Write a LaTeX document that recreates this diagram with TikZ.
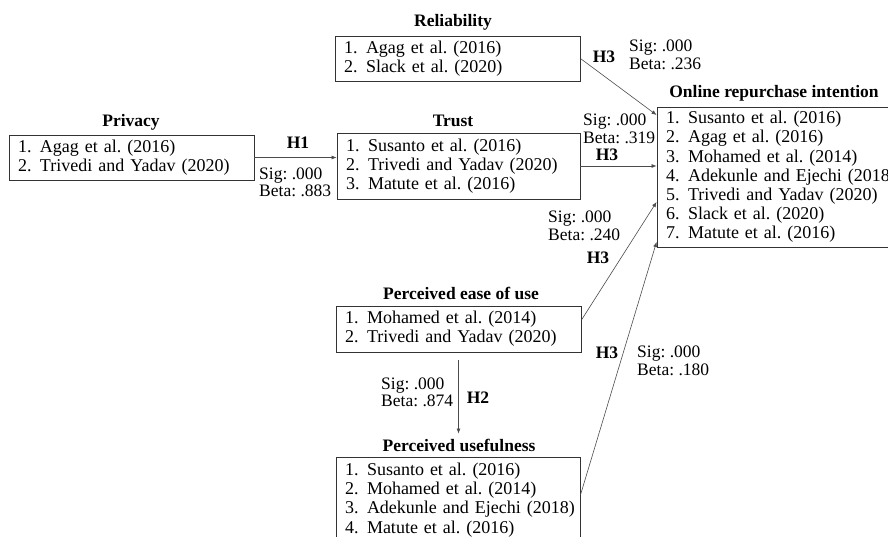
\documentclass[tikz,border=0pt]{standalone}
\usepackage{fontspec}
\setmainfont{Liberation Serif}
\usetikzlibrary{arrows.meta}
\frenchspacing
\newcommand{\cit}[2]{\mbox{\makebox[22pt][l]{#1.}#2}}

\begin{document}
\begin{tikzpicture}[x=1pt,y=-1pt,
	box/.style={draw=black!80,line width=0.9pt,inner xsep=9pt,inner ysep=0pt,align=left,font=\fontsize{18}{19.2}\selectfont},
	title/.style={font=\bfseries\fontsize{17.5}{18}\selectfont,inner sep=0pt},
	stat/.style={font=\fontsize{17.5}{17.5}\selectfont,align=left,inner sep=0pt,anchor=west},
	hyp/.style={font=\bfseries\fontsize{17.5}{18}\selectfont,inner sep=0pt},
	link/.style={draw=black!70,line width=0.6pt,-{Latex[length=5pt,width=4pt]}}]
	\useasboundingbox (0,0) rectangle (888,536);
	\clip (0,0) rectangle (888,536);
	\node[box,text width=227pt,minimum height=45pt] (privacy) at (131.5,157.5) {\cit{1}{Agag et al. (2016)}\\\cit{2}{Trivedi and Yadav (2020)}};
	\node[box,text width=227pt,minimum height=45pt] (reliab) at (457.5,58.5) {\cit{1}{Agag et al. (2016)}\\\cit{2}{Slack et al. (2020)}};
	\node[box,text width=225pt,minimum height=66pt] (trust) at (458.5,166) {\cit{1}{Susanto et al. (2016)}\\\cit{2}{Trivedi and Yadav (2020)}\\\cit{3}{Matute et al. (2016)}};
	\node[box,text width=250pt,minimum height=140pt] (intent) at (791,177) {\cit{1}{Susanto et al. (2016)}\\\cit{2}{Agag et al. (2016)}\\\cit{3}{Mohamed et al. (2014)}\\\cit{4}{Adekunle and Ejechi (2018)}\\\cit{5}{Trivedi and Yadav (2020)}\\\cit{6}{Slack et al. (2020)}\\\cit{7}{Matute et al. (2016)}};
	\node[box,text width=227pt,minimum height=46pt] (ease) at (458.5,329) {\cit{1}{Mohamed et al. (2014)}\\\cit{2}{Trivedi and Yadav (2020)}};
	\node[box,text width=226pt,minimum height=86pt] (useful) at (458,500) {\cit{1}{Susanto et al. (2016)}\\\cit{2}{Mohamed et al. (2014)}\\\cit{3}{Adekunle and Ejechi (2018)}\\\cit{4}{Matute et al. (2016)}};
	\node[title] (tpriv) at (131,122) {Privacy};
	\node[title] (trel) at (453,22) {Reliability};
	\node[title] (ttrust) at (453,121) {Trust};
	\node[title] (tint) at (774,93) {Online repurchase intention};
	\node[title] (tease) at (461,293) {Perceived ease of use};
	\node[title] (tuse) at (459,445) {Perceived usefulness};
	\node[hyp] (h1) at (298,143) {H1};
	\node[stat] (s1) at (259,182.5) {Sig: .000\\Beta: .883};
	\node[hyp] (h3a) at (604,57) {H3};
	\node[stat] (s2) at (629,55) {Sig: .000\\Beta: .236};
	\node[hyp] (h3b) at (607,155) {H3};
	\node[stat] (s3) at (583,129) {Sig: .000\\Beta: .319};
	\node[hyp] (h3c) at (598,258) {H3};
	\node[stat] (s4) at (548,226) {Sig: .000\\Beta: .240};
	\node[hyp] (h3d) at (607,353) {H3};
	\node[stat] (s5) at (637,361) {Sig: .000\\Beta: .180};
	\node[hyp] (h2) at (478,398) {H2};
	\node[stat] (s6) at (381,392.5) {Sig: .000\\Beta: .874};
	\draw[link] (privacy.east) -- (privacy.east -| trust.west);
	\draw[link] (reliab.east) -- ([yshift=62pt]intent.west);
	\draw[link] (trust.east) -- (trust.east -| intent.west);
	\draw[link] ([yshift=9pt]ease.east) -- ([yshift=-25pt]intent.west);
	\draw[link] ([yshift=5pt]useful.east) -- ([yshift=-65pt]intent.west);
	\draw[link] ([yshift=-8pt]ease.south) -- ([yshift=5pt]ease.south |- tuse.north);
\end{tikzpicture}
\end{document}
